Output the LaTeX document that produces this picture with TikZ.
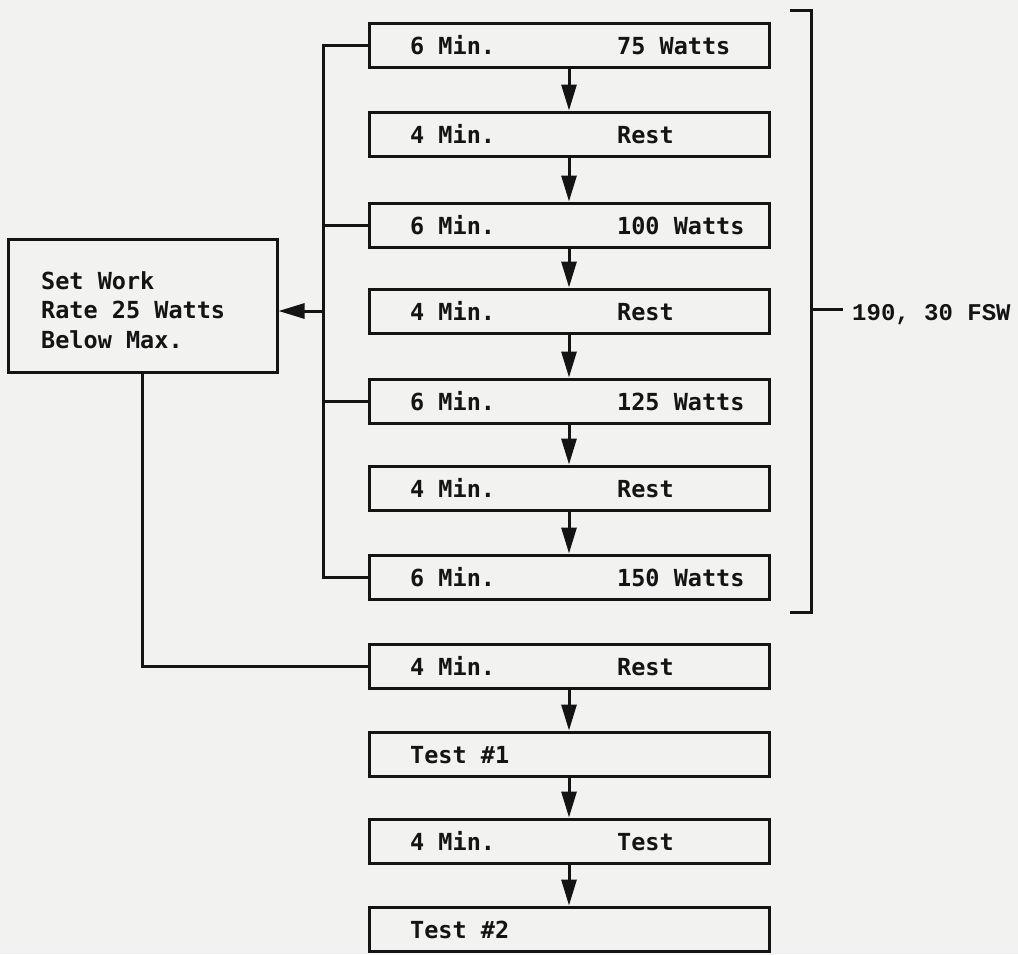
\documentclass[tikz,border=0pt]{standalone}
\usepackage{fontspec}
\setmonofont{DejaVu Sans Mono}
\newfontfamily\labelfont{Liberation Mono}
\usetikzlibrary{arrows.meta}
\definecolor{paper}{RGB}{242,242,240}
\definecolor{ink}{RGB}{20,20,20}
\begin{document}
\begin{tikzpicture}[x=1pt,y=-1pt,
  stage/.style={draw=ink,line width=3pt,minimum width=400pt,minimum height=44pt,inner sep=0pt},
  txt/.style={anchor=base west,inner sep=0pt,font=\ttfamily\bfseries\fontsize{23.5}{28}\selectfont,text=ink},
  flow/.style={draw=ink,line width=3pt,-{Triangle[length=26pt,width=15pt]}},
  wire/.style={draw=ink,line width=3pt}]
\fill[paper] (0,0) rectangle (1018,954);
\useasboundingbox (0,0) rectangle (1018,954);

% right column boxes
\node[stage] (b1) at (569,45) {};
\node[stage] (b2) at (569,134) {};
\node[stage] (b3) at (569,225) {};
\node[stage] (b4) at (569,311) {};
\node[stage] (b5) at (569,401) {};
\node[stage] (b6) at (569,488) {};
\node[stage] (b7) at (569,577) {};
\node[stage] (b8) at (569,666) {};
\node[stage] (b9) at (569,754) {};
\node[stage] (b10) at (569,841) {};
\node[stage] (b11) at (569,929) {};

% texts
\node[txt] (t1a) at (410,54) {6 Min.};  \node[txt] (t1b) at (617,54) {75 Watts};
\node[txt] (t2a) at (410,143) {4 Min.}; \node[txt] (t2b) at (617,143) {Rest};
\node[txt] (t3a) at (410,234) {6 Min.}; \node[txt] (t3b) at (617,234) {100 Watts};
\node[txt] (t4a) at (410,320) {4 Min.}; \node[txt] (t4b) at (617,320) {Rest};
\node[txt] (t5a) at (410,410) {6 Min.}; \node[txt] (t5b) at (617,410) {125 Watts};
\node[txt] (t6a) at (410,497) {4 Min.}; \node[txt] (t6b) at (617,497) {Rest};
\node[txt] (t7a) at (410,586) {6 Min.}; \node[txt] (t7b) at (617,586) {150 Watts};
\node[txt] (t8a) at (410,675) {4 Min.}; \node[txt] (t8b) at (617,675) {Rest};
\node[txt] (t9a) at (410,763) {Test \#1};
\node[txt] (t10a) at (410,850) {4 Min.}; \node[txt] (t10b) at (617,850) {Test};
\node[txt] (t11a) at (410,938) {Test \#2};

% column arrows
\draw[flow] (b1.south) -- (b2.north);
\draw[flow] (b2.south) -- (b3.north);
\draw[flow] (b3.south) -- (b4.north);
\draw[flow] (b4.south) -- (b5.north);
\draw[flow] (b5.south) -- (b6.north);
\draw[flow] (b6.south) -- (b7.north);
\draw[flow] (b8.south) -- (b9.north);
\draw[flow] (b9.south) -- (b10.north);
\draw[flow] (b10.south) -- (b11.north);

% left box
\node[draw=ink,line width=3pt,minimum width=269pt,minimum height=133pt,inner sep=0pt] (setw) at (142.5,305.5) {};
\node[txt] (s1) at (41,289) {Set Work};
\node[txt] (s2) at (41,318) {Rate 25 Watts};
\node[txt] (s3) at (41,348) {Below Max.};

% bus
\coordinate (busx) at (323,0);
\draw[wire] (b1.west) -| (b7.west -| busx) -- (b7.west);
\draw[wire] (b3.west) -- (b3.west -| busx);
\draw[wire] (b5.west) -- (b5.west -| busx);
\draw[flow] (b4.west -| busx) -- (b4.west -| setw.east);
\draw[wire] (setw.south) |- (b8.west);

% bracket
\coordinate (brt) at (790,10);
\coordinate (brb) at (790,612);
\coordinate (brk) at (811,309);
\draw[wire] (brt) -- (brt -| brk) -- (brb -| brk) -- (brb);
\node[anchor=base west,inner xsep=9pt,inner ysep=0pt,text=ink,font=\labelfont\bfseries\fontsize{24}{28}\selectfont] (fsw) at (843,320) {190, 30 FSW};
\draw[wire] (brk) -- (brk -| fsw.west);
\end{tikzpicture}
\end{document}
